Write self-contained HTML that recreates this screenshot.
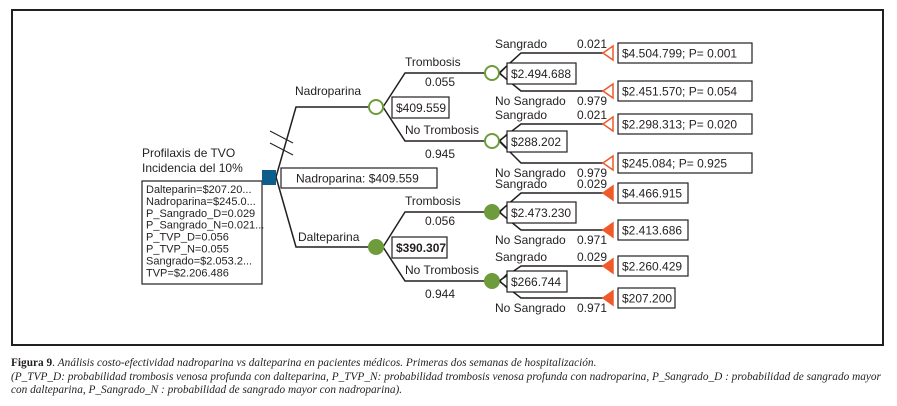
<!DOCTYPE html>
<html><head><meta charset="utf-8">
<style>
html,body{margin:0;padding:0;background:#fff;}
body{width:897px;height:406px;overflow:hidden;position:relative;}
svg{position:absolute;left:0;top:0;}
.t{font-family:"Liberation Sans",sans-serif;font-size:12px;fill:#231f20;}
.s{font-family:"Liberation Sans",sans-serif;font-size:11px;fill:#231f20;}
.cap{position:absolute;left:11px;top:357px;width:886px;font-family:"Liberation Serif",serif;font-size:11.3px;line-height:13.5px;color:#231f20;white-space:nowrap;}
</style></head>
<body>
<svg id="tree" width="897" height="406">
<rect x="12" y="10" width="871" height="335" fill="none" stroke="#231f20" stroke-width="2"/>
<g id="lines" fill="none" stroke="#231f20" stroke-width="1.5"></g>
<g id="marks"></g>
</svg>
<div class="cap"><b>Figura 9</b>. <i>Análisis costo-efectividad nadroparina vs dalteparina en pacientes médicos. Primeras dos semanas de hospitalización.</i><br><i>(P_TVP_D: probabilidad trombosis venosa profunda con dalteparina, P_TVP_N: probabilidad trombosis venosa profunda con nadroparina, P_Sangrado_D : probabilidad de sangrado mayor</i><br><i>con dalteparina, P_Sangrado_N : probabilidad de sangrado mayor con nadroparina).</i></div>
<script>
const strategies=["Nadroparina","Dalteparina"];
const strategyValues=["$409.559","$390.307"];
const strategyY=[107,247];
const chanceLabels=["Trombosis","No Trombosis","Trombosis","No Trombosis"];
const chanceProbs=["0.055","0.945","0.056","0.944"];
const chanceValues=["$2.494.688","$288.202","$2.473.230","$266.744"];
const chanceY=[73,141,212,281];
const bleedProbs=["0.021","0.979","0.021","0.979","0.029","0.971","0.029","0.971"];
const endValues=["$4.504.799; P= 0.001","$2.451.570; P= 0.054","$2.298.313; P= 0.020","$245.084; P= 0.925","$4.466.915","$2.413.686","$2.260.429","$207.200"];
const endY=[53,91,124,163,193,230,266,298];
const params=["Dalteparin=$207.20...","Nadroparina=$245.0...","P_Sangrado_D=0.029","P_Sangrado_N=0.021...","P_TVP_D=0.056","P_TVP_N=0.055","Sangrado=$2.053.2...","TVP=$2.206.486"];

const NS="http://www.w3.org/2000/svg";
const L=document.getElementById('lines'), M=document.getElementById('marks');
function mk(tag,attrs,parent,txt){const e=document.createElementNS(NS,tag);for(const k in attrs)e.setAttribute(k,attrs[k]);if(txt!==undefined)e.textContent=txt;parent.appendChild(e);return e;}
function box(x,y,w,h,name,txt,cls,bold,pad){
  const r=mk('rect',{x:x,y:y,width:w,height:h,fill:'#fff',stroke:'#231f20','stroke-width':1.2},M);
  
  
  const t=mk('text',{x:x+(pad||4),y:y+h/2+4.5,class:cls||'t','font-weight':bold?'bold':'normal'},M,txt);
  
  
}
function text(x,y,s,name,cls){const t=mk('text',{x:x,y:y,class:cls||'t'},M,s);
  
  return t;}

text(142,157,"Profilaxis de TVO","root-title");
text(142,172,"Incidencia del 10%","root-subtitle");
const pb=mk('rect',{x:142,y:181,width:120,height:103,fill:'#fff',stroke:'#231f20','stroke-width':1.2},M);


params.forEach((p,i)=>{text(146,193+i*11.9,p,'parameter-line','s');});
mk('line',{x1:270,y1:131,x2:293,y2:143,stroke:'#231f20','stroke-width':1},M);
mk('line',{x1:270,y1:143,x2:293,y2:155,stroke:'#231f20','stroke-width':1},M);
box(281,168,156,20,'optimal-strategy','Nadroparina: $409.559','t',false,15);

strategies.forEach((s,i)=>{
  const y=strategyY[i];
  mk('path',{d:`M276 177 L296 ${y} L369 ${y}`},L);
  text(i==0?295:298,y-12+(i==0?0:6),s,'strategy-label-'+s.toLowerCase());
  const green='#6e9b3c';
  const c=mk('circle',{cx:376,cy:y,r:7,fill:i==0?'#fff':green,stroke:green,'stroke-width':2},M);
  
  
  box(392,y-10,i==0?57:55,21,'strategy-value',strategyValues[i],'t',i==1);
  for(let j=0;j<2;j++){
    const k=i*2+j, cy=chanceY[k];
    mk('path',{d:`M383 ${y} L405 ${cy} L485 ${cy}`},L);
    text(405,cy-7,chanceLabels[k],'chance-label');
    text(425,cy+(j==0?13:17),chanceProbs[k],'chance-prob');
    const cc=mk('circle',{cx:492,cy:cy,r:7,fill:i==0?'#fff':green,stroke:green,'stroke-width':2},M);
    
    
    for(let m=0;m<2;m++){
      const e=k*2+m, ey=endY[e];
      mk('path',{d:`M499 ${cy} L521 ${ey} L604 ${ey}`},L);
      text(495,m==0?ey-5:ey+14,m==0?"Sangrado":"No Sangrado",'bleed-label');
      text(577,m==0?ey-5:ey+14,bleedProbs[e],'bleed-prob');
      const tri=mk('path',{d:`M603 ${ey} L613 ${ey-7} L613 ${ey+7} Z`,fill:i==0?'#fff':'#f05a28',stroke:'#f05a28','stroke-width':1.5},M);
      
      
      const w=i==0?134:(endValues[e].length>8?70:57);
      box(618,ey-10,w,20,'terminal-value',endValues[e]);
    }
    box(507,cy-10,chanceValues[k].length>8?69:60,21,'chance-value',chanceValues[k]);
    mk('path',{d:`M507 ${cy-7} L500 ${cy} L507 ${cy+7}`,fill:'none',stroke:'#231f20','stroke-width':1.2},M);
  }
});
const sq=mk('rect',{x:262,y:170,width:14,height:15,fill:'#0e5d8a'},M);


</script>
</body></html>
